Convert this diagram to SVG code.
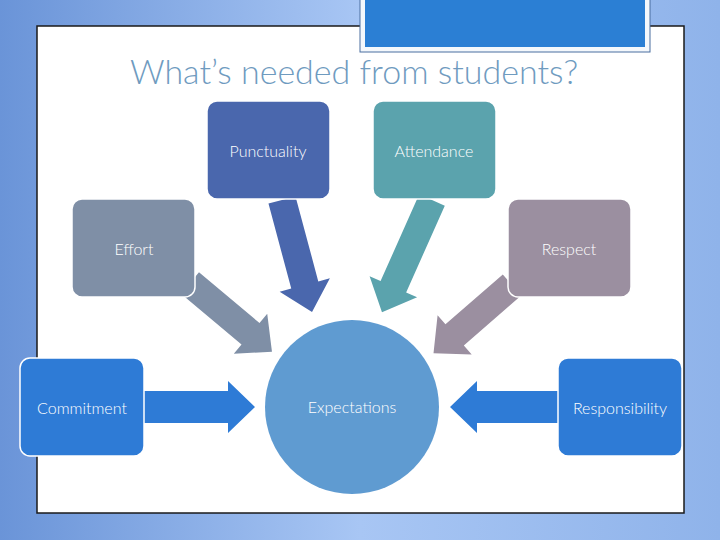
<svg xmlns="http://www.w3.org/2000/svg" width="720" height="540" viewBox="0 0 720 540">
<defs>
<linearGradient id="bg" x1="0" y1="0" x2="1" y2="0">
<stop offset="0" stop-color="#6a94d8"/><stop offset="0.5" stop-color="#a8c6f4"/><stop offset="1" stop-color="#8fb3ea"/>
</linearGradient>
<style>
.lbl{font-family:"Lato","Liberation Sans",sans-serif;font-weight:300;font-size:16px;fill:#ffffff;text-anchor:middle;dominant-baseline:central}
.arr{stroke:none}
</style>
</defs>
<rect width="720" height="540" fill="url(#bg)"/>
<rect x="37" y="26" width="647" height="487" fill="#ffffff" stroke="#1a1a1a" stroke-width="1.5"/>
<rect x="360" y="-2" width="290" height="54" fill="#f4f8fc" stroke="#4a6fa0" stroke-width="1"/>
<rect x="365" y="-2" width="280" height="49" fill="#2b7fd4"/>
<text x="354" y="84" font-family="Lato,'Liberation Sans',sans-serif" font-size="34" font-weight="300" fill="#6f9bbf" text-anchor="middle">What’s needed from students?</text>
<g id="connectors">
<polygon class="arr" fill="#4a67ad" transform="translate(282,200) rotate(75)" points="0,-14 88,-14 88,-26 116,0 88,26 88,14 0,14"/>
<polygon class="arr" fill="#5ba3ad" transform="translate(432,200) rotate(114)" points="0,-14 95,-14 95,-26 123,0 95,26 95,14 0,14"/>
<polygon class="arr" fill="#7f8fa6" transform="translate(190,283) rotate(40)" points="0,-14 79,-14 79,-26 107,0 79,26 79,14 0,14"/>
<polygon class="arr" fill="#9b8fa0" transform="translate(512,285) rotate(139)" points="0,-14 76,-14 76,-26 104,0 76,26 76,14 0,14"/>
<polygon class="arr" fill="#2e7bd6" transform="translate(144,407)" points="0,-16 84,-16 84,-26 111,0 84,26 84,16 0,16"/>
<polygon class="arr" fill="#2e7bd6" transform="translate(558,407) rotate(180)" points="0,-16 81,-16 81,-26 108,0 81,26 81,16 0,16"/>
</g>
<g id="expectations"><circle cx="352" cy="407" r="87" fill="#5f9bd1"/><text class="lbl" x="352" y="406" font-size="19">Expectations</text></g>
<g id="punctuality"><rect x="207" y="101" width="123" height="98" rx="10" fill="#4a67ad" stroke="#fff" stroke-width="1.5"/><text class="lbl" x="268" y="150">Punctuality</text></g>
<g id="attendance"><rect x="373" y="101" width="123" height="98" rx="10" fill="#5ba3ad" stroke="#fff" stroke-width="1.5"/><text class="lbl" x="434" y="150">Attendance</text></g>
<g id="effort"><rect x="72" y="199" width="123" height="98" rx="10" fill="#7f8fa6" stroke="#fff" stroke-width="1.5"/><text class="lbl" x="134" y="248">Effort</text></g>
<g id="respect"><rect x="508" y="199" width="123" height="98" rx="10" fill="#9b8fa0" stroke="#fff" stroke-width="1.5"/><text class="lbl" x="569" y="248">Respect</text></g>
<g id="commitment"><rect x="20" y="358" width="124" height="98" rx="10" fill="#2e7bd6" stroke="#fff" stroke-width="1.5"/><text class="lbl" x="82" y="407">Commitment</text></g>
<g id="responsibility"><rect x="558" y="358" width="124" height="98" rx="10" fill="#2e7bd6" stroke="#fff" stroke-width="1.5"/><text class="lbl" x="620" y="407">Responsibility</text></g>
</svg>
